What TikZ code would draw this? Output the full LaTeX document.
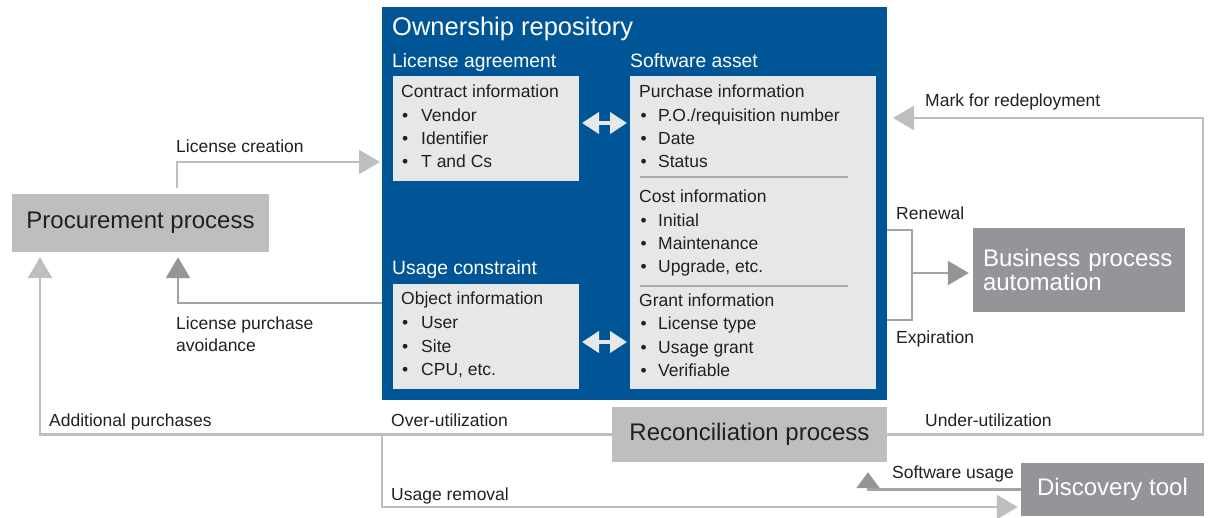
\documentclass[tikz,border=0pt]{standalone}
\usepackage{fontspec}
\setmainfont{Liberation Sans}
\usetikzlibrary{arrows.meta}
\definecolor{ownblue}{HTML}{005596}
\definecolor{panel}{HTML}{E6E7E8}
\definecolor{procgrey}{HTML}{BCBEC0}
\definecolor{darkgrey}{HTML}{939598}
\definecolor{lineL}{HTML}{BCBEC0}
\definecolor{lineD}{HTML}{A2A4A7}
\definecolor{sepgrey}{HTML}{A7A9AC}
\definecolor{ink}{HTML}{231F20}
\begin{document}
\begin{tikzpicture}[x=1pt,y=-1pt,
  box/.style={anchor=north west, inner sep=0pt, outer sep=0pt, draw=none},
  lbl/.style={anchor=base west, inner sep=0pt, text=ink, font=\fontsize{17.5}{21}\selectfont},
  wlbl/.style={anchor=base west, inner sep=0pt, text=white, font=\fontsize{19.3}{23}\selectfont},
  txt/.style={anchor=base west, inner sep=0pt, text=ink, font=\fontsize{17.5}{21}\selectfont},
  big/.style={font=\fontsize{24}{24}\selectfont},
  lightarrow/.style={draw=lineL, line width=2.6pt, -{Triangle[length=21pt,width=24pt,color=lineL]}},
  darkarrow/.style={draw=lineD, line width=2.6pt, -{Triangle[length=21pt,width=24pt,color=darkgrey]}},
  brk/.style={draw=lineD, line width=2.6pt},
  dbl/.style={draw=panel, line width=4pt, shorten <=3pt, shorten >=3pt,
    {Triangle[length=17pt,width=21pt,color=panel]}-{Triangle[length=17pt,width=21pt,color=panel]}},
  sepline/.style={draw=sepgrey, line width=1.5pt}
]
\useasboundingbox (0,0) rectangle (1209,518);

% main containers
\node[box, fill=ownblue, minimum width=505pt, minimum height=393pt] (own) at (382,7) {};
\node[box, fill=panel, minimum width=186pt, minimum height=105pt] (la) at (393,76) {};
\node[box, fill=panel, minimum width=186pt, minimum height=105pt] (uc) at (393,284) {};
\node[box, fill=panel, minimum width=246pt, minimum height=313pt] (sa) at (630,76) {};

% process boxes
\node[fill=procgrey, text=ink, big, minimum width=257pt, minimum height=58pt, inner sep=0pt] (proc) at (140.5,223) {Procurement process};
\node[fill=procgrey, text=ink, big, minimum width=275pt, minimum height=55pt, inner sep=0pt] (recon) at (749.5,434.5) {Reconciliation process};
\node[fill=darkgrey, text=white, big, minimum height=84pt, inner xsep=10pt, inner ysep=0pt, align=left, text width=192pt] (biz) at (1079,270) {Business process\\automation};
\node[fill=darkgrey, text=white, big, minimum width=183pt, minimum height=53pt, inner sep=0pt] (disc) at (1112.5,489.5) {Discovery tool};

% titles in blue
\node[wlbl, font=\fontsize{25.5}{28}\selectfont] (ownt) at (392,36) {Ownership repository};
\node[wlbl] (lat) at (392,68) {License agreement};
\node[wlbl] (sat) at (630,68) {Software asset};
\node[wlbl] (uct) at (392,275) {Usage constraint};

% license agreement contents
\node[txt] (la0) at (401,98) {Contract information};
\foreach \t [count=\i] in {Vendor, Identifier, T and Cs}
  \node[txt] (la\i) at (402,{98+23.3*\i}) {\makebox[19pt][l]{\textbullet}\t};

% usage constraint contents
\node[txt] (uc0) at (401,305) {Object information};
\foreach \t [count=\i] in {User, Site, {CPU, etc.}}
  \node[txt] (uc\i) at (402,{305+23.6*\i}) {\makebox[19pt][l]{\textbullet}\t};

% software asset contents
\node[txt] (sp0) at (639,98) {Purchase information};
\foreach \t [count=\i] in {P.O./requisition number, Date, Status}
  \node[txt] (sp\i) at (640.3,{98+23.3*\i}) {\makebox[17.7pt][l]{\textbullet}\t};
\draw[sepline] (640,177) -- (848,177);
\node[txt] (sc0) at (639,203) {Cost information};
\foreach \t [count=\i] in {Initial, Maintenance, {Upgrade, etc.}}
  \node[txt] (sc\i) at (640.3,{203+23.3*\i}) {\makebox[17.7pt][l]{\textbullet}\t};
\draw[sepline] (640,286) -- (848,286);
\node[txt] (sg0) at (639,306) {Grant information};
\foreach \t [count=\i] in {License type, Usage grant, Verifiable}
  \node[txt] (sg\i) at (640.3,{306+23.6*\i}) {\makebox[17.7pt][l]{\textbullet}\t};

% double arrows
\coordinate (d1) at ([yshift=5.5pt]la.east);
\draw[dbl] (d1) -- (d1 -| sa.west);
\coordinate (d2) at ([yshift=-5.5pt]uc.east);
\draw[dbl] (d2) -- (d2 -| sa.west);

% connectors
\draw[lightarrow, shorten >=2pt] ([xshift=36.5pt,yshift=6pt]proc.north) |- (own.west |- 0,162);
\draw[darkarrow] (own.west |- 0,303) -| ([xshift=37.5pt,yshift=-5pt]proc.south);
\draw[lightarrow] (recon.west) -| ([xshift=-100.5pt,yshift=-5pt]proc.south);
\coordinate (j1) at (382,434.5);
\draw[lightarrow, shorten >=3pt] (j1) |- (disc.west |- 0,507);
\draw[draw=lineD, line width=2.6pt, -{Triangle[length=16pt,width=23pt,color=darkgrey]}] (disc.west) -| ([xshift=118.5pt,yshift=-10pt]recon.south);
\coordinate (rc) at (1203,118);
\draw[lightarrow, shorten >=6pt] (recon.east) -| (rc) -- (own.east |- rc);
\coordinate (br) at (912,273);
\draw[brk] (own.east |- 0,230) -| (br |- 0,320) -- (own.east |- 0,320);
\draw[darkarrow, shorten >=4pt] (br) -- (biz.west |- br);

% connector labels
\node[lbl] (l1) at (176,153) {License creation};
\node[lbl] (l2) at (176,330) {License purchase};
\node[lbl] (l3) at (176,352) {avoidance};
\node[lbl] (l4) at (49,426) {Additional purchases};
\node[lbl] (l5) at (391,426) {Over-utilization};
\node[lbl] (l6) at (391,500) {Usage removal};
\node[lbl] (l7) at (925,426) {Under-utilization};
\node[lbl] (l8) at (892,478) {Software usage};
\node[lbl] (l9) at (925,107) {Mark for redeployment};
\node[lbl] (l10) at (896,220) {Renewal};
\node[lbl] (l11) at (896,343) {Expiration};
\end{tikzpicture}
\end{document}
